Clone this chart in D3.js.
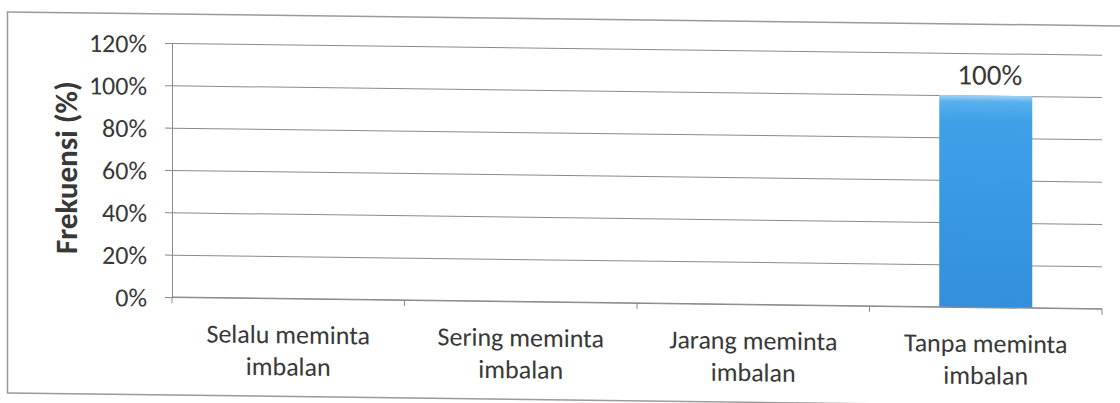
<!DOCTYPE html>
<html>
<head>
<meta charset="utf-8">
<script src="https://cdn.jsdelivr.net/npm/d3@7"></script>
<style>
  body { margin: 0; background: #fff; }
  svg { display: block; }
  .lbl { font-family: Carlito, Calibri, "Open Sans", sans-serif; fill: #383838; }
  .axis path, .axis line { stroke: #8a8a8a; }
  .grid line { stroke: #8a8a8a; }
  .grid path { display: none; }
</style>
</head>
<body>
<div id="chart"></div>
<script>
// data
var categories = [
  ['Selalu meminta', 'imbalan'],
  ['Sering meminta', 'imbalan'],
  ['Jarang meminta', 'imbalan'],
  ['Tanpa meminta', 'imbalan']
];
var values = [0, 0, 0, 100];
var yTicks = [0, 20, 40, 60, 80, 100, 120];
var yTitle = 'Frekuensi (%)';

var W = 1120, H = 403;
var plot = {left: 172, right: 1102, top: 43, bottom: 297};

var svg = d3.select('#chart').append('svg')
  .attr('width', W)
  .attr('height', H);

var defs = svg.append('defs');
var grad = defs.append('linearGradient')
  .attr('id', 'barFill')
  .attr('x1', 0).attr('y1', 0).attr('x2', 0).attr('y2', 1);
grad.append('stop').attr('offset', '0%').attr('stop-color', '#9fd3f7');
grad.append('stop').attr('offset', '3%').attr('stop-color', '#58b0ee');
grad.append('stop').attr('offset', '12%').attr('stop-color', '#3fa0e8');
grad.append('stop').attr('offset', '100%').attr('stop-color', '#338fdb');

// the scan is slightly skewed, lines fall to the right
var root = svg.append('g')
  .attr('transform', 'translate(' + plot.left + ',0) skewY(0.72) translate(' + (-plot.left) + ',0)');

// outer frame
root.append('rect')
  .attr('x', 7.5)
  .attr('y', 14)
  .attr('width', 1130)
  .attr('height', 381)
  .attr('fill', 'none')
  .attr('stroke', '#9a9a9a')
  .attr('stroke-width', 1.5);

var x = d3.scaleBand()
  .domain(d3.range(categories.length))
  .range([plot.left, plot.right])
  .paddingInner(0.6)
  .paddingOuter(0.3);

var y = d3.scaleLinear()
  .domain([0, 120])
  .range([plot.bottom, plot.top]);

// gridlines
root.append('g')
  .attr('class', 'grid')
  .attr('transform', 'translate(' + plot.left + ',0)')
  .call(d3.axisLeft(y).tickValues(yTicks).tickSize(-(plot.right - plot.left)).tickFormat(''));

// y axis
var yAxis = root.append('g')
  .attr('class', 'axis')
  .attr('transform', 'translate(' + plot.left + ',0)')
  .call(d3.axisLeft(y).tickValues(yTicks).tickSize(7).tickPadding(18).tickFormat(function(d) { return d + '%'; }));
yAxis.selectAll('text')
  .attr('class', 'lbl')
  .style('font-size', '26px')
  .attr('dy', '0.36em');

// bars
root.selectAll('.bar')
  .data(values)
  .enter().append('rect')
  .attr('class', 'bar')
  .attr('x', function(d, i) { return x(i); })
  .attr('y', function(d) { return y(d); })
  .attr('width', x.bandwidth())
  .attr('height', function(d) { return y(0) - y(d); })
  .attr('fill', 'url(#barFill)');

// x axis line + category boundary ticks
var bounds = d3.range(categories.length + 1).map(function(i) { return x.range()[0] + i * x.step(); });
root.append('line')
  .attr('x1', plot.left).attr('x2', plot.right)
  .attr('y1', y(0)).attr('y2', y(0))
  .attr('stroke', '#8a8a8a');
root.selectAll('.xtick')
  .data(bounds)
  .enter().append('line')
  .attr('x1', function(d) { return d; })
  .attr('x2', function(d) { return d; })
  .attr('y1', y(0))
  .attr('y2', y(0) + 6)
  .attr('stroke', '#8a8a8a');

// category labels (two lines)
var catG = root.selectAll('.cat')
  .data(categories)
  .enter().append('text')
  .attr('class', 'lbl')
  .attr('text-anchor', 'middle')
  .style('font-size', '26px');
catG.selectAll('tspan')
  .data(function(d, i) { return d.map(function(t) { return {t: t, i: i}; }); })
  .enter().append('tspan')
  .attr('x', function(d) { return x(d.i) + x.bandwidth() / 2; })
  .attr('y', function(d, j) { return y(0) + 45 + j * 32; })
  .text(function(d) { return d.t; });

// data labels (only non-zero)
root.selectAll('.val')
  .data(values.map(function(v, i) { return {v: v, i: i}; }).filter(function(d) { return d.v > 0; }))
  .enter().append('text')
  .attr('class', 'lbl')
  .attr('text-anchor', 'middle')
  .style('font-size', '29px')
  .attr('x', function(d) { return x(d.i) + x.bandwidth() / 2 + 4; })
  .attr('y', function(d) { return y(d.v) - 11; })
  .text(function(d) { return d.v + '%'; });

// y title
root.append('text')
  .attr('class', 'lbl')
  .attr('transform', 'translate(77,' + ((plot.top + plot.bottom) / 2 - 1) + ') rotate(-90)')
  .attr('text-anchor', 'middle')
  .style('font-size', '31px')
  .style('font-weight', 'bold')
  .text(yTitle);
</script>
</body>
</html>
